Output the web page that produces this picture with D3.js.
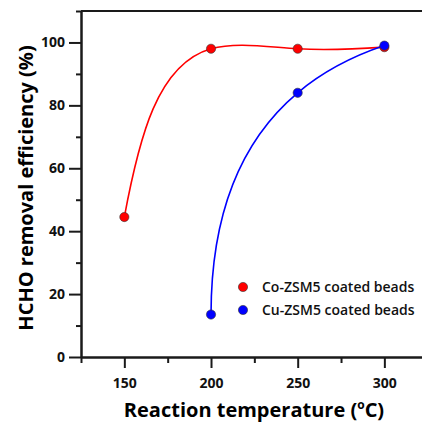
<!DOCTYPE html>
<html><head><meta charset="utf-8">
<script src="https://cdn.jsdelivr.net/npm/d3@7"></script>
<style>
html,body{margin:0;padding:0;background:#fff;}
svg{display:block;}
text{font-family:"Open Sans","DejaVu Sans",sans-serif;}
</style></head>
<body>
<svg id="chart" width="422" height="422"></svg>
<script>
const temperatures = [150, 200, 250, 300];
const coValues = [44.5, 98, 98, 98.5];
const cuTemps = [200, 250, 300];
const cuValues = [13.5, 84, 99];
const seriesNames = ["Co-ZSM5 coated beads", "Cu-ZSM5 coated beads"];
const seriesColors = ["#ff0000", "#0000ff"];
const seriesEndCurvature = [0.1, 1];
const xTicks = [150, 200, 250, 300];
const xMinorTicks = [125, 175, 225, 275];
const yTicks = [0, 20, 40, 60, 80, 100];
const yMinorTicks = [10, 30, 50, 70, 90, 110];

const svg = d3.select("#chart");
const L = 81, T = 11, B = 357, R = 422.5;
const x = d3.scaleLinear().domain([125, 322]).range([L, R]);
const y = d3.scaleLinear().domain([0, 110]).range([B, T]);

// parametric cubic spline curve (chord-length parameterisation);
// k = end curvature ratio (0 = natural ends, 1 = parabolic run-out)
function parametricSpline(k) {
  return function(context) {
    let pts = [];
    function solve(vals, h) {
      const n = vals.length, M = new Array(n).fill(0);
      if (n < 3) return M;
      const d = [];
      for (let i = 0; i < n - 1; i++) d.push((vals[i+1] - vals[i]) / h[i]);
      const a = [], b = [], c = [], r = [];
      for (let i = 1; i < n - 1; i++) {
        a.push(h[i-1]); b.push(2 * (h[i-1] + h[i])); c.push(h[i]); r.push(6 * (d[i] - d[i-1]));
      }
      const m = b.length;
      b[0] += k * h[0];
      b[m-1] += k * h[n-2];
      for (let i = 1; i < m; i++) {
        const w = a[i] / b[i-1];
        b[i] -= w * c[i-1]; r[i] -= w * r[i-1];
      }
      const s = new Array(m);
      s[m-1] = r[m-1] / b[m-1];
      for (let i = m - 2; i >= 0; i--) s[i] = (r[i] - c[i] * s[i+1]) / b[i];
      for (let i = 0; i < m; i++) M[i+1] = s[i];
      M[0] = k * M[1]; M[n-1] = k * M[n-2];
      return M;
    }
    return {
      areaStart() {}, areaEnd() {},
      lineStart() { pts = []; },
      point(px, py) { pts.push([+px, +py]); },
      lineEnd() {
        const n = pts.length;
        if (!n) return;
        context.moveTo(pts[0][0], pts[0][1]);
        if (n === 1) return;
        const h = [];
        for (let i = 0; i < n - 1; i++) {
          h.push(Math.max(Math.hypot(pts[i+1][0] - pts[i][0], pts[i+1][1] - pts[i][1]), 1e-6));
        }
        const xs = pts.map(p => p[0]), ys = pts.map(p => p[1]);
        const Mx = solve(xs, h), My = solve(ys, h);
        for (let i = 0; i < n - 1; i++) {
          const hi = h[i];
          const dx = (xs[i+1] - xs[i]) / hi, dy = (ys[i+1] - ys[i]) / hi;
          const tx0 = dx - hi * (2 * Mx[i] + Mx[i+1]) / 6, ty0 = dy - hi * (2 * My[i] + My[i+1]) / 6;
          const tx1 = dx + hi * (Mx[i] + 2 * Mx[i+1]) / 6, ty1 = dy + hi * (My[i] + 2 * My[i+1]) / 6;
          context.bezierCurveTo(
            xs[i] + hi / 3 * tx0, ys[i] + hi / 3 * ty0,
            xs[i+1] - hi / 3 * tx1, ys[i+1] - hi / 3 * ty1,
            xs[i+1], ys[i+1]);
        }
      }
    };
  };
}

const axisColor = "#1a1a1a";
// x axis
const xAxis = svg.append("g").attr("transform", `translate(0,${B})`)
  .call(d3.axisBottom(x).tickValues(xTicks).tickSize(11).tickSizeOuter(0).tickPadding(10));
const xMinor = svg.append("g").attr("transform", `translate(0,${B})`)
  .call(d3.axisBottom(x).tickValues(xMinorTicks).tickSize(6).tickSizeOuter(0).tickFormat(""));
// y axis
const yAxis = svg.append("g").attr("transform", `translate(${L},0)`)
  .call(d3.axisLeft(y).tickValues(yTicks).tickSize(12).tickSizeOuter(0).tickPadding(4));
const yMinor = svg.append("g").attr("transform", `translate(${L},0)`)
  .call(d3.axisLeft(y).tickValues(yMinorTicks).tickSize(5).tickSizeOuter(0).tickFormat(""));
[xAxis, xMinor, yAxis, yMinor].forEach(g => {
  g.selectAll("path.domain").attr("stroke", axisColor).attr("stroke-width", 2);
  g.selectAll(".tick line").attr("stroke", axisColor).attr("stroke-width", 2);
  g.selectAll(".tick text").attr("fill", "#111").attr("font-size", 14).attr("font-weight", "bold")
    .attr("font-family", '"Open Sans",sans-serif');
});
// top frame line
svg.append("line").attr("x1", x(125)).attr("x2", R).attr("y1", y(110)).attr("y2", y(110))
  .attr("stroke", axisColor).attr("stroke-width", 2);

const seriesData = [
  temperatures.map((t, i) => [t, coValues[i]]),
  cuTemps.map((t, i) => [t, cuValues[i]])
];
seriesData.forEach((data, si) => {
  const line = d3.line().x(d => x(d[0])).y(d => y(d[1]))
    .curve(parametricSpline(seriesEndCurvature[si]));
  svg.append("path").datum(data).attr("d", line).attr("fill", "none")
    .attr("stroke", seriesColors[si]).attr("stroke-width", 1.6);
  svg.append("g").selectAll("circle").data(data).join("circle")
    .attr("cx", d => x(d[0])).attr("cy", d => y(d[1])).attr("r", 4.6)
    .attr("fill", seriesColors[si]).attr("stroke", "#333").attr("stroke-width", 0.6);
});

// legend
const leg = svg.append("g").attr("transform", "translate(243,287)");
seriesNames.forEach((name, i) => {
  leg.append("circle").attr("cx", 0).attr("cy", i * 23).attr("r", 4.6)
    .attr("fill", seriesColors[i]).attr("stroke", "#333").attr("stroke-width", 0.6);
  leg.append("text").attr("x", 19).attr("y", i * 23).attr("dy", "0.35em")
    .attr("font-size", 14).attr("font-weight", 600).attr("fill", "#111").text(name);
});

// axis titles
const xt = svg.append("text").attr("x", 254).attr("y", 417).attr("text-anchor", "middle")
  .attr("font-size", 20).attr("font-weight", "bold").attr("fill", "#000");
xt.append("tspan").text("Reaction temperature (");
xt.append("tspan").attr("dy", -8).attr("font-size", 12).text("o");
xt.append("tspan").attr("dy", 8).text("C)");

svg.append("text").attr("transform", "translate(33,188) rotate(-90)").attr("text-anchor", "middle")
  .attr("font-size", 20).attr("font-weight", "bold").attr("fill", "#000")
  .text("HCHO removal efficiency (%)");
</script>
</body></html>
